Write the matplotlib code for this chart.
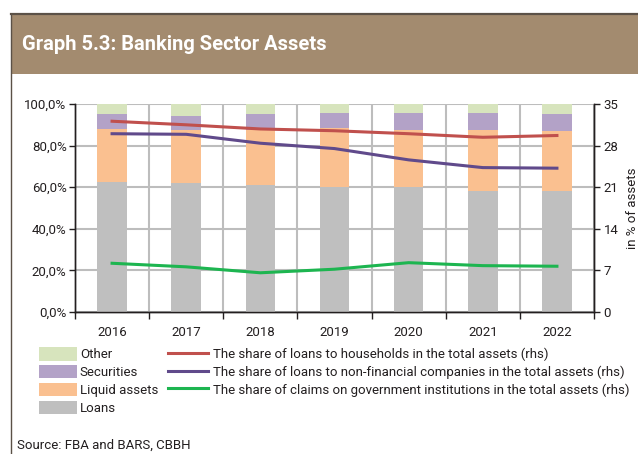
import numpy as np
import matplotlib.pyplot as plt
from matplotlib.patches import Rectangle, Patch
from matplotlib.lines import Line2D
from matplotlib.ticker import FuncFormatter

plt.rcParams['font.family'] = ['Roboto', 'DejaVu Sans']

# ── Data ─────────────────────────────────────────────────────────────────────
years = ['2016', '2017', '2018', '2019', '2020', '2021', '2022']

# asset structure, % of total (lhs, stacked)
loans = [62.7, 62.2, 61.1, 60.3, 60.1, 58.3, 58.2]
liquid = [25.5, 25.5, 26.6, 28.3, 27.3, 29.3, 28.6]
securities = [6.8, 6.5, 7.5, 7.0, 8.1, 8.2, 8.5]
other = [5.0, 5.8, 4.8, 4.4, 4.5, 4.2, 4.7]

# shares in total assets, % (rhs)
households = [32.1, 31.5, 30.8, 30.5, 30.0, 29.4, 29.7]
companies = [30.0, 29.9, 28.4, 27.5, 25.6, 24.3, 24.2]
government = [8.2, 7.6, 6.6, 7.2, 8.3, 7.8, 7.7]

C_LOANS = '#BFBFBF'
C_LIQ = '#FAC090'
C_SEC = '#B3A2C7'
C_OTH = '#D7E4BD'
C_RED = '#C0504D'
C_PUR = '#604A8B'
C_GRN = '#1DB550'
GRID = '#BDBDBD'
TXT = '#231F20'
FS = 9.5

fig = plt.figure(figsize=(6.38, 4.54), dpi=100)

# header band and frame
fig.add_artist(Rectangle((11/638, 1 - 73.5/454), 1, 60/454, transform=fig.transFigure,
                         facecolor='#A38B6F', edgecolor='none'))
fig.add_artist(Line2D([11/638, 1], [1 - 13.5/454] * 2, transform=fig.transFigure,
                      color='#5B5147', lw=1.6))
fig.add_artist(Line2D([11/638] * 2, [0, 1 - 13.5/454], transform=fig.transFigure,
                      color='#5B5147', lw=1.0))
fig.text(22/638, 1 - 45/454, 'Graph 5.3: Banking Sector Assets', color='white',
         fontsize=14.5, fontweight='bold', va='center', ha='left')

ax = fig.add_axes([75/638, 1 - 312/454, 519/638, 208/454])
x = np.arange(len(years))
w = 0.4

bottom = np.zeros(len(years))
for vals, col in [(loans, C_LOANS), (liquid, C_LIQ), (securities, C_SEC), (other, C_OTH)]:
    ax.bar(x, vals, w, bottom=bottom, color=col, zorder=3, linewidth=0)
    bottom += np.array(vals)

ax.set_xlim(-0.5, len(years) - 0.5)
ax.set_ylim(0, 100)
ax.set_yticks(np.arange(0, 101, 20))
ax.yaxis.set_major_formatter(FuncFormatter(lambda v, p: f'{v:.1f}%'.replace('.', ',')))
ax.set_xticks(x)
ax.set_xticklabels(years)
ax.set_xticks(np.arange(-0.5, len(years) + 0.5, 1), minor=True)
ax.tick_params(axis='x', which='major', length=0, pad=10, labelsize=FS, colors=TXT)
ax.tick_params(axis='x', which='minor', length=5, width=1, color=TXT)
ax.tick_params(axis='y', length=4, width=1, labelsize=FS, colors=TXT, pad=2)
ax.yaxis.grid(True, color=GRID, lw=1.5, zorder=0)
ax.xaxis.grid(True, which='minor', color=GRID, lw=1.5, zorder=0)
ax.set_axisbelow(True)
ax.spines['top'].set_visible(False)
for s in ['left', 'bottom', 'right']:
    ax.spines[s].set_color(TXT)
    ax.spines[s].set_linewidth(1.0)

ax2 = ax.twinx()
ax2.plot(x, households, color=C_RED, lw=2.2, zorder=4)
ax2.plot(x, companies, color=C_PUR, lw=2.2, zorder=4)
ax2.plot(x, government, color=C_GRN, lw=2.2, zorder=4)
ax2.set_ylim(0, 35)
ax2.set_yticks(np.arange(0, 36, 7))
ax2.tick_params(axis='y', length=4, width=1, labelsize=FS, colors=TXT, pad=3)
ax2.set_ylabel('in % of assets', fontsize=FS, color=TXT, labelpad=5)
ax2.spines['top'].set_visible(False)
for s in ['left', 'bottom', 'right']:
    ax2.spines[s].set_color(TXT)
    ax2.spines[s].set_linewidth(1.0)

# legends
patch_handles = [Patch(facecolor=c, edgecolor='none') for c in [C_OTH, C_SEC, C_LIQ, C_LOANS]]
fig.legend(patch_handles, ['Other', 'Securities', 'Liquid assets', 'Loans'],
           loc='upper left', bbox_to_anchor=(39/638, 1 - 347/454), frameon=False,
           fontsize=FS, handlelength=2.85, handleheight=1.2, labelspacing=0.28,
           handletextpad=0.25, borderpad=0, borderaxespad=0, labelcolor=TXT)

line_handles = [Line2D([], [], color=c, lw=2.2) for c in [C_RED, C_PUR, C_GRN]]
fig.legend(line_handles,
           ['The share of loans to households in the total assets (rhs)',
            'The share of loans to non-financial companies in the total assets (rhs)',
            'The share of claims on government institutions in the total assets (rhs)'],
           loc='upper left', bbox_to_anchor=(168/638, 1 - 347/454), frameon=False,
           fontsize=FS, handlelength=3.0, handleheight=1.2, labelspacing=0.28,
           handletextpad=0.4, borderpad=0, borderaxespad=0, labelcolor=TXT)

fig.text(17/638, 1 - 445/454, 'Source: FBA and BARS, CBBH', fontsize=FS,
         color=TXT, va='center', ha='left')

fig.savefig('out.png', dpi=100)
